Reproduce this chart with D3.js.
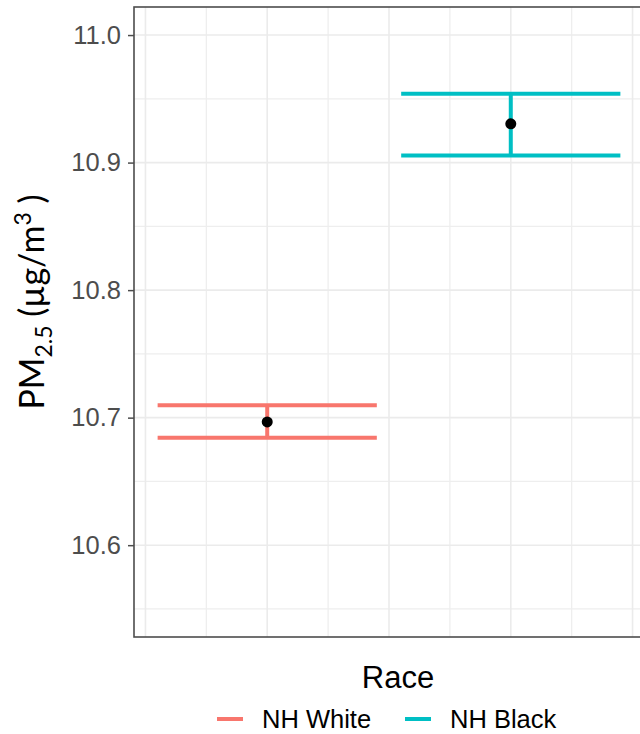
<!DOCTYPE html>
<html>
<head>
<meta charset="utf-8">
<script src="https://cdn.jsdelivr.net/npm/d3@7"></script>
<style>
  body { margin: 0; background: #fff; }
  svg { display: block; }
</style>
</head>
<body>
<svg id="chart" width="640" height="734"></svg>
<script>
const races = ["NH White", "NH Black"];
const means = [10.6966, 10.9304];
const lower = [10.6843, 10.9055];
const upper = [10.7097, 10.9539];
const colors = ["#F8766D", "#00BFC4"];
const yTicks = [10.6, 10.7, 10.8, 10.9, 11.0];

const svg = d3.select("#chart"),
  pLeft = 134, pRight = 644, pTop = 7, pBottom = 637;

const x = d3.scaleLinear().domain([0.453, 2.547]).range([pLeft, pRight]);
const y = d3.scaleLinear().domain([10.528, 11.022]).range([pBottom, pTop]);

// grid
const grid = svg.append("g");
const yMinor = d3.range(10.55, 11.0, 0.1);
const xMinor = [0.75, 1.25, 1.75, 2.25];
const xMajor = [0.5, 1, 1.5, 2, 2.5];
grid.selectAll(".ymin").data(yMinor).join("line")
  .attr("x1", pLeft).attr("x2", pRight)
  .attr("y1", d => y(d)).attr("y2", d => y(d))
  .attr("stroke", "#eeeeee").attr("stroke-width", 1.3);
grid.selectAll(".xmin").data(xMinor).join("line")
  .attr("y1", pTop).attr("y2", pBottom)
  .attr("x1", d => x(d)).attr("x2", d => x(d))
  .attr("stroke", "#eeeeee").attr("stroke-width", 1.3);
grid.selectAll(".ymaj").data(yTicks).join("line")
  .attr("x1", pLeft).attr("x2", pRight)
  .attr("y1", d => y(d)).attr("y2", d => y(d))
  .attr("stroke", "#ebebeb").attr("stroke-width", 1.6);
grid.selectAll(".xmaj").data(xMajor).join("line")
  .attr("y1", pTop).attr("y2", pBottom)
  .attr("x1", d => x(d)).attr("x2", d => x(d))
  .attr("stroke", "#ebebeb").attr("stroke-width", 1.6);

// error bars
const bars = svg.append("g").selectAll("g").data(races).join("g")
  .attr("stroke", (d, i) => colors[i]).attr("stroke-width", 4);
bars.append("line")
  .attr("x1", (d, i) => x(i + 1 - 0.45)).attr("x2", (d, i) => x(i + 1 + 0.45))
  .attr("y1", (d, i) => y(upper[i])).attr("y2", (d, i) => y(upper[i]));
bars.append("line")
  .attr("x1", (d, i) => x(i + 1 - 0.45)).attr("x2", (d, i) => x(i + 1 + 0.45))
  .attr("y1", (d, i) => y(lower[i])).attr("y2", (d, i) => y(lower[i]));
bars.append("line")
  .attr("x1", (d, i) => x(i + 1)).attr("x2", (d, i) => x(i + 1))
  .attr("y1", (d, i) => y(upper[i])).attr("y2", (d, i) => y(lower[i]));

svg.append("g").selectAll("circle").data(means).join("circle")
  .attr("cx", (d, i) => x(i + 1)).attr("cy", d => y(d))
  .attr("r", 5.5).attr("fill", "#000");

// panel border
svg.append("rect")
  .attr("x", pLeft).attr("y", pTop)
  .attr("width", pRight - pLeft).attr("height", pBottom - pTop)
  .attr("fill", "none").attr("stroke", "#4d4d4d").attr("stroke-width", 1.6);

// y axis
const yAxis = svg.append("g")
  .attr("transform", `translate(${pLeft},0)`)
  .call(d3.axisLeft(y).tickValues(yTicks).tickFormat(d3.format(".1f")).tickSize(6).tickPadding(7));
yAxis.select(".domain").remove();
yAxis.selectAll(".tick line").attr("stroke", "#4d4d4d").attr("stroke-width", 1.5);
yAxis.selectAll(".tick text")
  .attr("fill", "#4d4d4d")
  .style("font-family", "Liberation Sans, Arial, sans-serif")
  .style("font-size", "25.5px");

// y title
const yt = svg.append("text")
  .attr("transform", "translate(44,302) rotate(-90)")
  .attr("text-anchor", "middle")
  .style("font-family", "Lato, 'Open Sans', sans-serif")
  .style("font-size", "34px")
  .attr("fill", "#000");
yt.append("tspan").text("PM");
yt.append("tspan").attr("dy", 8).style("font-size", "23px").text("2.5");
yt.append("tspan").attr("dy", -8).text(" (µg/m");
yt.append("tspan").attr("dy", -13).style("font-size", "23px").text("3");
yt.append("tspan").attr("dy", 13).text(" )");

// x title
svg.append("text")
  .attr("x", 398).attr("y", 688)
  .attr("text-anchor", "middle")
  .style("font-family", "Liberation Sans, Arial, sans-serif")
  .style("font-size", "31px")
  .text("Race");

// legend
const keyX = [217, 405];
const leg = svg.append("g").selectAll("g").data(races).join("g");
leg.append("line")
  .attr("x1", (d, i) => keyX[i]).attr("x2", (d, i) => keyX[i] + 26)
  .attr("y1", 719).attr("y2", 719)
  .attr("stroke", (d, i) => colors[i]).attr("stroke-width", 4);
leg.append("text")
  .attr("x", (d, i) => keyX[i] + 45).attr("y", 728)
  .style("font-family", "Liberation Sans, Arial, sans-serif")
  .style("font-size", "25.5px")
  .text(d => d);
</script>
</body>
</html>
